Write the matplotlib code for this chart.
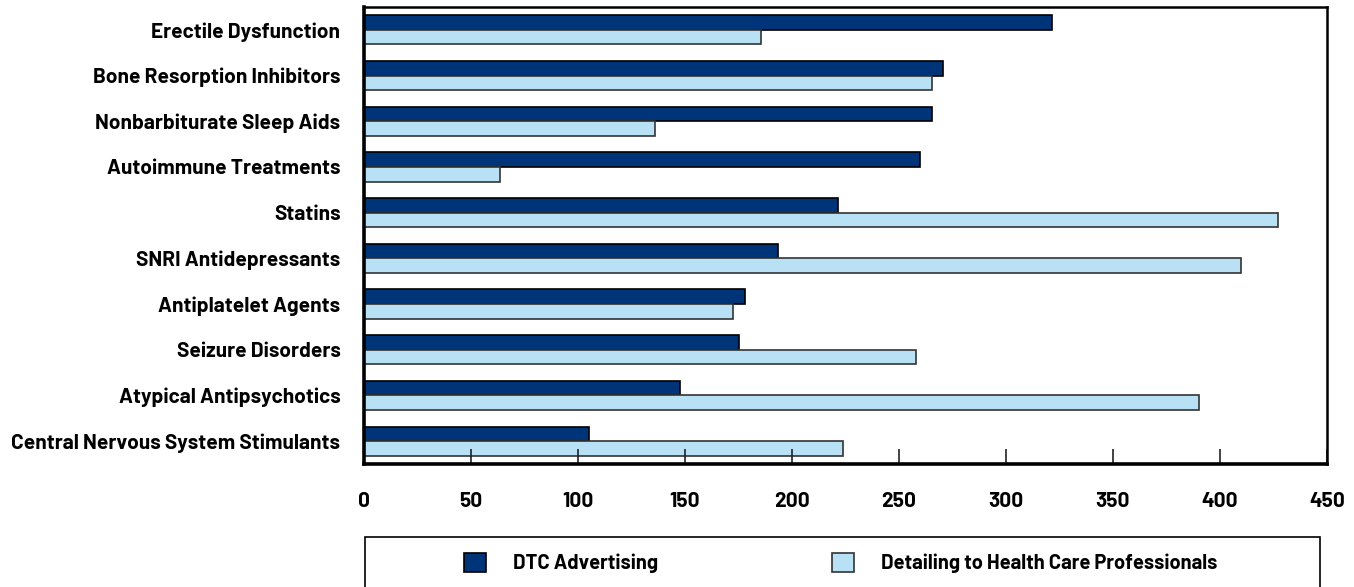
import matplotlib
matplotlib.use("Agg")
import matplotlib.pyplot as plt
import numpy as np
from matplotlib.patches import Rectangle

plt.rcParams['font.family'] = ['Barlow', 'Barlow Semi Condensed', 'DejaVu Sans']
plt.rcParams['font.weight'] = 'bold'

# data
categories = [
    "Erectile Dysfunction",
    "Bone Resorption Inhibitors",
    "Nonbarbiturate Sleep Aids",
    "Autoimmune Treatments",
    "Statins",
    "SNRI Antidepressants",
    "Antiplatelet Agents",
    "Seizure Disorders",
    "Atypical Antipsychotics",
    "Central Nervous System Stimulants",
]
dtc_advertising = [321.5, 270.5, 265.5, 260, 221.5, 193.5, 178, 175, 147.5, 105]
detailing = [185.5, 265.5, 136, 63.5, 427, 410, 172.5, 258, 390, 224]
series_names = ["DTC Advertising", "Detailing to Health Care Professionals"]
xticks = [0, 50, 100, 150, 200, 250, 300, 350, 400, 450]

DARK = "#003478"
LIGHT = "#b9e1f6"
FS = 15
LEG_FS = 14.5

fig = plt.figure(figsize=(13.54, 5.87), dpi=100)
ax = fig.add_axes([364 / 1354, 1 - 464 / 587, (1327 - 364) / 1354, (464 - 7) / 587])

y = np.arange(len(categories))
h = 0.32
ax.barh(y - h / 2, dtc_advertising, height=h, color=DARK, edgecolor="black",
        linewidth=1.2, label=series_names[0])
ax.barh(y + h / 2, detailing, height=h, color=LIGHT, edgecolor="#333333",
        linewidth=1.2, label=series_names[1])

ax.set_ylim(len(categories) - 0.5, -0.5)
ax.set_xlim(0, 450)
ax.set_xticks(xticks)
ax.set_xticklabels([str(t) for t in xticks])
ax.set_yticks(y)
ax.set_yticklabels(categories)

ax.tick_params(axis="x", direction="in", length=11, width=1.2, pad=20,
               labelsize=FS, color="#222222")
ax.tick_params(axis="y", length=0, pad=17, labelsize=FS)
for s in ax.spines.values():
    s.set_linewidth(1.8)
ax.spines["left"].set_linewidth(2.6)
ax.spines["bottom"].set_linewidth(2.6)

# legend with a plain frame below the plot
fig.patches.append(Rectangle((365 / 1354, -0.02), (1320 - 365) / 1354, 0.02 + 1 - 537 / 587,
                             transform=fig.transFigure, fill=False,
                             edgecolor="black", linewidth=1.2))
fig.legend(loc="center left", bbox_to_anchor=(464 / 1354, 1 - 563 / 587),
           ncol=2, frameon=False, fontsize=LEG_FS, borderpad=0, borderaxespad=0,
           handlelength=1.1, handleheight=1.1, handletextpad=1.35,
           columnspacing=8.6)

fig.savefig("out.png", dpi=100)
